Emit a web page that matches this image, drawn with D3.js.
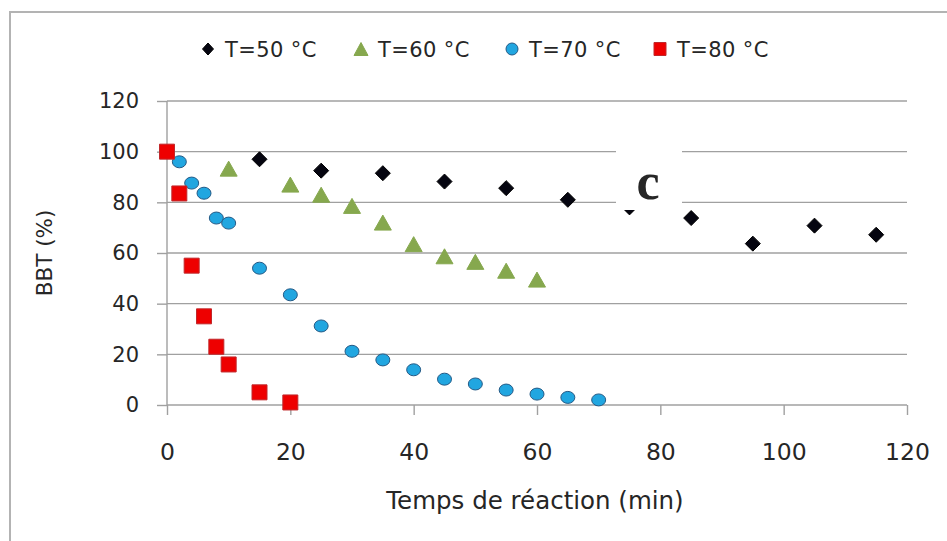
<!DOCTYPE html>
<html>
<head>
<meta charset="utf-8">
<script src="https://cdn.jsdelivr.net/npm/d3@7"></script>
<style>
  body { margin: 0; background: #fff; }
  svg text { font-family: "DejaVu Sans", sans-serif; fill: #262626; }
</style>
</head>
<body>
<svg id="chart" width="947" height="541"></svg>
<script>
// Tick values for both axes
const xTicks = [0, 20, 40, 60, 80, 100, 120];
const yTicks = [0, 20, 40, 60, 80, 100, 120];

// Series names (legend order)
const seriesNames = ["T=50 °C", "T=60 °C", "T=70 °C", "T=80 °C"];

// Reaction time (min) and remaining BBT (%) for each temperature
const t50 = [15, 25, 35, 45, 55, 65, 75, 85, 95, 105, 115];
const v50 = [97, 92.5, 91.5, 88.2, 85.6, 81, 78, 73.8, 63.7, 70.8, 67.2];

const t60 = [10, 20, 25, 30, 35, 40, 45, 50, 55, 60];
const v60 = [93.3, 87, 83, 78.6, 72, 63.5, 58.7, 56.5, 53, 49.5];

const t70 = [2, 4, 6, 8, 10, 15, 20, 25, 30, 35, 40, 45, 50, 55, 60, 65, 70];
const v70 = [96, 87.6, 83.6, 73.8, 71.8, 54, 43.5, 31.2, 21.2, 17.8, 13.9, 10.2, 8.3, 5.9, 4.3, 3, 2];

const t80 = [0, 2, 4, 6, 8, 10, 15, 20];
const v80 = [100, 83.5, 55, 35, 23, 16, 5, 1];

const svg = d3.select("#chart");

// Outer chart frame (left and top edges)
svg.append("path")
  .attr("d", "M10,541 L10,12 L947,12")
  .attr("fill", "none")
  .attr("stroke", "#b3b3b3")
  .attr("stroke-width", 2);

const margin = { left: 167, right: 40, top: 101, bottom: 136 };
const W = 947, H = 541;

const x = d3.scaleLinear().domain([0, 120]).range([margin.left, W - margin.right]);
const y = d3.scaleLinear().domain([0, 120]).range([H - margin.bottom, margin.top]);

const gridColor = "#a0a0a0";

// Horizontal gridlines
svg.append("g")
  .selectAll("line")
  .data(yTicks.filter(d => d > 0))
  .join("line")
  .attr("x1", x(0)).attr("x2", x(120))
  .attr("y1", d => y(d)).attr("y2", d => y(d))
  .attr("stroke", gridColor)
  .attr("stroke-width", 1.4);

// Y axis
const yAxis = svg.append("g")
  .attr("transform", `translate(${x(0)},0)`)
  .call(d3.axisLeft(y).tickValues(yTicks).tickSize(10).tickPadding(18));
yAxis.selectAll("line, path").attr("stroke", gridColor).attr("stroke-width", 1.4);
yAxis.select(".domain").attr("d", `M0,${y(0)}V${y(120)}`);
yAxis.selectAll("text").style("font-size", "21px").style("font-family", "DejaVu Sans").attr("fill", "#262626");

// X axis
const xAxis = svg.append("g")
  .attr("transform", `translate(0,${y(0)})`)
  .call(d3.axisBottom(x).tickValues(xTicks).tickSize(10).tickPadding(28));
xAxis.selectAll("line, path").attr("stroke", gridColor).attr("stroke-width", 1.4);
xAxis.select(".domain").attr("d", `M${x(0)},0H${x(120)}`);
xAxis.selectAll("text").style("font-size", "23.5px").style("font-family", "DejaVu Sans").attr("fill", "#262626");

// Axis titles
svg.append("text")
  .attr("x", 535)
  .attr("y", 509)
  .attr("text-anchor", "middle")
  .style("font-size", "24.5px")
  .text("Temps de réaction (min)");

svg.append("text")
  .attr("transform", `translate(52,${(y(0) + y(120)) / 2}) rotate(-90)`)
  .attr("text-anchor", "middle")
  .style("font-size", "21.5px")
  .text("BBT (%)");

// Marker shapes, sized by width/height
const shapes = {
  diamond: (w, h) => `M0,${-h / 2}L${w / 2},0L0,${h / 2}L${-w / 2},0Z`,
  triangle: (w, h) => `M0,${-h / 2}L${w / 2},${h / 2}L${-w / 2},${h / 2}Z`,
  square: (w, h) => `M${-w / 2},${-h / 2}h${w}v${h}h${-w}Z`,
  circle: (w, h) => `M${-w / 2},0a${w / 2},${h / 2} 0 1,0 ${w},0a${w / 2},${h / 2} 0 1,0 ${-w},0Z`
};

const series = [
  { name: seriesNames[0], t: t50, v: v50, shape: "diamond", w: 15, h: 15, legendW: 11, legendH: 12, fill: "#050510", stroke: "#000000" },
  { name: seriesNames[1], t: t60, v: v60, shape: "triangle", w: 17, h: 15, legendW: 14, legendH: 13, fill: "#86a84e", stroke: "#86a84e" },
  { name: seriesNames[2], t: t70, v: v70, shape: "circle", w: 14, h: 12, legendW: 12, legendH: 12, fill: "#21a6e0", stroke: "#245a86" },
  { name: seriesNames[3], t: t80, v: v80, shape: "square", w: 15, h: 15, legendW: 12, legendH: 13, fill: "#ee0000", stroke: "#c0282b" }
];

// Data markers
series.forEach(s => {
  const pts = s.t.map((t, i) => ({ t, v: s.v[i] }));
  svg.append("g")
    .selectAll("path")
    .data(pts)
    .join("path")
    .attr("transform", d => `translate(${x(d.t)},${y(d.v)})`)
    .attr("d", shapes[s.shape](s.w, s.h))
    .attr("fill", s.fill)
    .attr("stroke", s.stroke)
    .attr("stroke-width", 1);
});

// Legend
const legendX = [208, 361, 512, 660];
const legend = svg.append("g");
series.forEach((s, i) => {
  const g = legend.append("g").attr("transform", `translate(${legendX[i]},49)`);
  g.append("path")
    .attr("d", shapes[s.shape](s.legendW, s.legendH))
    .attr("fill", s.fill)
    .attr("stroke", s.stroke)
    .attr("stroke-width", 1);
  g.append("text")
    .attr("x", 17)
    .attr("y", 0)
    .attr("dy", "0.36em")
    .style("font-size", "21px")
    .style("letter-spacing", "0.4px")
    .text(s.name);
});

// Panel label in a white box
svg.append("rect")
  .attr("x", 616).attr("y", 140)
  .attr("width", 66).attr("height", 70)
  .attr("fill", "#ffffff");
svg.append("text")
  .attr("x", 648).attr("y", 199)
  .attr("text-anchor", "middle")
  .style("font-family", "'Liberation Serif', 'Times New Roman', serif")
  .style("font-size", "52px")
  .style("font-weight", "bold")
  .attr("fill", "#000")
  .text("c");
</script>
</body>
</html>
